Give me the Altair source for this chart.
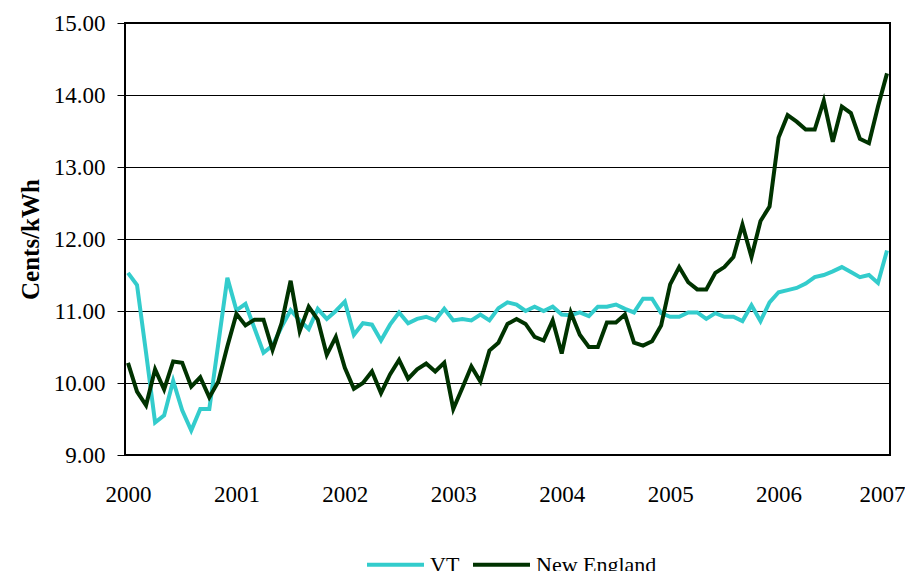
import altair as alt
import pandas as pd

months = list(range(85))
year_ticks = [0, 12, 24, 36, 48, 60, 72, 84]
y_ticks = [9, 10, 11, 12, 13, 14, 15]

vt = [11.53, 11.36, 10.42, 9.45, 9.55, 10.03, 9.62, 9.34, 9.64, 9.64,
      10.55, 11.46, 11.01, 11.10, 10.76, 10.42, 10.52, 10.78, 11.01, 10.87,
      10.75, 11.03, 10.89, 11.00, 11.13, 10.67, 10.83, 10.81, 10.59, 10.81,
      10.98, 10.83, 10.89, 10.92, 10.87, 11.03, 10.87, 10.89, 10.87, 10.95,
      10.87, 11.04, 11.12, 11.09, 11.00, 11.06, 11.00, 11.06, 10.95, 10.94,
      10.98, 10.93, 11.06, 11.06, 11.09, 11.03, 10.98, 11.17, 11.17, 10.97,
      10.92, 10.92, 10.98, 10.98, 10.89, 10.97, 10.92, 10.92, 10.86, 11.08,
      10.86, 11.12, 11.26, 11.29, 11.32, 11.38, 11.47, 11.50, 11.55, 11.61,
      11.54, 11.47, 11.50, 11.39, 11.84]

ne = [10.28, 9.88, 9.69, 10.19, 9.91, 10.30, 10.28, 9.95, 10.08, 9.80,
      10.02, 10.51, 10.96, 10.80, 10.88, 10.88, 10.46, 10.83, 11.42, 10.72,
      11.06, 10.88, 10.39, 10.64, 10.21, 9.92, 10.00, 10.16, 9.86, 10.12,
      10.32, 10.06, 10.19, 10.27, 10.16, 10.28, 9.64, 9.93, 10.23, 10.02,
      10.45, 10.56, 10.82, 10.89, 10.82, 10.64, 10.59, 10.87, 10.41, 10.98,
      10.67, 10.50, 10.50, 10.84, 10.84, 10.95, 10.56, 10.52, 10.58, 10.80,
      11.37, 11.61, 11.40, 11.30, 11.30, 11.53, 11.61, 11.75, 12.20, 11.75,
      12.25, 12.45, 13.41, 13.72, 13.63, 13.52, 13.52, 13.92, 13.35, 13.84,
      13.75, 13.39, 13.33, 13.84, 14.30]

series_names = ["VT", "New England"]
colors = ["#33CCCC", "#003300"]

df = pd.concat([
    pd.DataFrame({"month": months, "value": vt, "series": "VT", "ord": 0}),
    pd.DataFrame({"month": months, "value": ne, "series": "New England", "ord": 1}),
])

FONT = "Liberation Serif"

chart = alt.Chart(df).mark_line(strokeWidth=4).encode(
    x=alt.X("month:Q",
            scale=alt.Scale(domain=[-0.33, 84.33], nice=False, zero=False),
            axis=alt.Axis(values=year_ticks, labelExpr="2000 + datum.value / 12",
                          grid=False, ticks=False, domain=False, labelPadding=28,
                          labelFontSize=23, labelColor="black", labelFont=FONT,
                          labelOffset={"condition": {"test": "datum.value == 84", "value": -5},
                                       "value": 0},
                          title=None)),
    y=alt.Y("value:Q",
            scale=alt.Scale(domain=[9, 15], nice=False, zero=False),
            axis=alt.Axis(values=y_ticks, format=".2f", tickSize=8, tickColor="black",
                          tickWidth=1, labelPadding=12, labelFontSize=23, labelFont=FONT,
                          labelColor="black", grid=True, gridColor="black", gridWidth=1,
                          gridOpacity=1, domain=False,
                          title="Cents/kWh", titleFontSize=25, titleFont=FONT,
                          titleFontWeight="bold", titleColor="black", titlePadding=10)),
    color=alt.Color("series:N",
                    scale=alt.Scale(domain=series_names, range=colors),
                    legend=alt.Legend(orient="none", legendX=240, legendY=511,
                                      direction="horizontal", symbolType="stroke",
                                      symbolSize=3249, symbolStrokeWidth=4,
                                      labelFontSize=22, labelColor="black", labelFont=FONT,
                                      columnPadding=5, labelOffset=4, title=None)),
    detail="ord:O",
).properties(
    width=765,
    height=432,
    autosize=alt.AutoSizeParams(type="none"),
    padding={"left": 117, "top": 15, "right": 15, "bottom": 125},
).configure_view(stroke="black", strokeWidth=2)

chart.save("out.html", embed_options={"renderer": "svg", "actions": False})
